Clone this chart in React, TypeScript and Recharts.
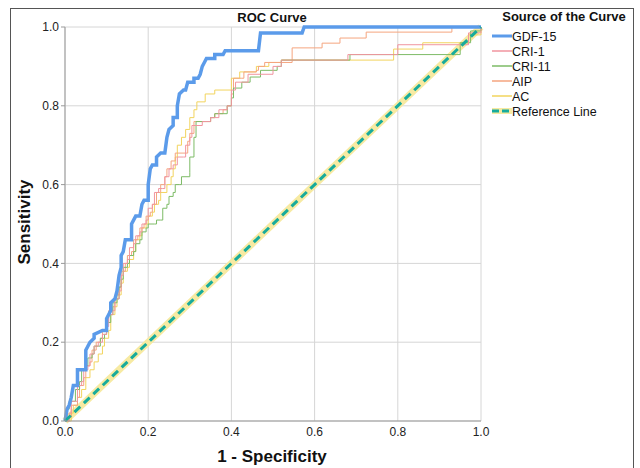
import { LineChart, Line, XAxis, YAxis, CartesianGrid } from "recharts";

type Pt = [number, number];

const TICKS = [0, 0.2, 0.4, 0.6, 0.8, 1.0];

const gdf15: Pt[] = [
  [0, 0], [0.005, 0.03], [0.01, 0.04], [0.015, 0.06], [0.02, 0.09], [0.03, 0.09], [0.03, 0.13],
  [0.05, 0.13], [0.05, 0.18], [0.06, 0.2], [0.07, 0.21], [0.07, 0.22], [0.09, 0.23], [0.1, 0.23],
  [0.1, 0.26], [0.11, 0.28], [0.11, 0.3], [0.12, 0.31], [0.125, 0.33], [0.13, 0.37], [0.135, 0.39],
  [0.135, 0.42], [0.14, 0.43], [0.145, 0.46], [0.16, 0.46], [0.16, 0.5], [0.17, 0.52], [0.18, 0.52],
  [0.185, 0.55], [0.19, 0.56], [0.2, 0.56], [0.2, 0.6], [0.205, 0.64], [0.21, 0.65], [0.22, 0.65],
  [0.22, 0.67], [0.23, 0.68], [0.24, 0.68], [0.245, 0.72], [0.25, 0.74], [0.26, 0.75], [0.26, 0.77],
  [0.27, 0.77], [0.27, 0.8], [0.275, 0.83], [0.285, 0.84], [0.29, 0.84], [0.295, 0.86], [0.31, 0.86],
  [0.31, 0.87], [0.32, 0.87], [0.325, 0.88], [0.33, 0.9], [0.335, 0.91], [0.34, 0.92], [0.36, 0.92],
  [0.36, 0.93], [0.38, 0.93], [0.385, 0.94], [0.465, 0.94], [0.47, 0.985], [0.57, 0.985], [0.575, 1],
  [1, 1],
];

const cri1: Pt[] = [
  [0, 0], [0.01, 0.02], [0.015, 0.05], [0.025, 0.05], [0.03, 0.09], [0.04, 0.1], [0.045, 0.13],
  [0.055, 0.14], [0.06, 0.17], [0.07, 0.19], [0.08, 0.2], [0.09, 0.22], [0.1, 0.24], [0.105, 0.27],
  [0.115, 0.28], [0.12, 0.31], [0.13, 0.33], [0.135, 0.37], [0.14, 0.4], [0.15, 0.41], [0.155, 0.44],
  [0.165, 0.45], [0.17, 0.47], [0.18, 0.48], [0.185, 0.5], [0.195, 0.51], [0.2, 0.54], [0.21, 0.55],
  [0.215, 0.58], [0.225, 0.59], [0.235, 0.59], [0.24, 0.62], [0.25, 0.64], [0.26, 0.65], [0.27, 0.67],
  [0.285, 0.67], [0.29, 0.7], [0.3, 0.72], [0.305, 0.75], [0.33, 0.76], [0.35, 0.77], [0.37, 0.79],
  [0.39, 0.8], [0.4, 0.84], [0.41, 0.86], [0.44, 0.88], [0.5, 0.9], [0.52, 0.916], [0.68, 0.916],
  [0.68, 0.93], [0.79, 0.93], [0.8, 0.955], [0.96, 0.955], [0.97, 0.985], [1, 1],
];

const cri11: Pt[] = [
  [0, 0], [0.005, 0.03], [0.01, 0.05], [0.02, 0.05], [0.025, 0.08], [0.035, 0.1], [0.04, 0.13],
  [0.05, 0.14], [0.055, 0.16], [0.065, 0.17], [0.07, 0.19], [0.08, 0.19], [0.085, 0.21], [0.095, 0.22],
  [0.1, 0.25], [0.11, 0.27], [0.115, 0.3], [0.125, 0.31], [0.13, 0.34], [0.135, 0.36], [0.14, 0.39],
  [0.15, 0.4], [0.155, 0.42], [0.165, 0.43], [0.17, 0.45], [0.18, 0.46], [0.185, 0.48], [0.195, 0.49],
  [0.2, 0.5], [0.215, 0.5], [0.22, 0.51], [0.23, 0.51], [0.235, 0.54], [0.245, 0.55], [0.25, 0.57],
  [0.26, 0.58], [0.265, 0.6], [0.275, 0.6], [0.28, 0.62], [0.3, 0.63], [0.3, 0.67], [0.31, 0.72],
  [0.315, 0.76], [0.35, 0.77], [0.36, 0.78], [0.39, 0.8], [0.4, 0.82], [0.405, 0.845], [0.425, 0.86],
  [0.445, 0.873], [0.47, 0.89], [0.51, 0.9], [0.52, 0.916], [0.685, 0.916], [0.685, 0.93],
  [0.94, 0.93], [0.95, 0.96], [0.975, 0.99], [1, 1],
];

const aip: Pt[] = [
  [0, 0], [0.01, 0.01], [0.015, 0.04], [0.03, 0.06], [0.035, 0.09], [0.045, 0.11], [0.05, 0.14],
  [0.06, 0.15], [0.065, 0.18], [0.075, 0.2], [0.085, 0.21], [0.09, 0.23], [0.1, 0.25], [0.105, 0.28],
  [0.115, 0.29], [0.12, 0.32], [0.13, 0.34], [0.135, 0.38], [0.145, 0.4], [0.15, 0.42], [0.16, 0.43],
  [0.165, 0.46], [0.175, 0.47], [0.18, 0.49], [0.19, 0.5], [0.195, 0.52], [0.205, 0.53], [0.21, 0.55],
  [0.22, 0.58], [0.23, 0.6], [0.24, 0.62], [0.245, 0.64], [0.255, 0.66], [0.265, 0.68], [0.29, 0.68],
  [0.295, 0.71], [0.3, 0.73], [0.31, 0.76], [0.35, 0.77], [0.36, 0.78], [0.38, 0.79], [0.39, 0.8],
  [0.4, 0.83], [0.405, 0.87], [0.425, 0.87], [0.43, 0.886], [0.46, 0.89], [0.465, 0.9], [0.48, 0.91],
  [0.52, 0.91], [0.546, 0.916], [0.546, 0.947], [0.618, 0.947], [0.618, 0.959], [0.661, 0.959],
  [0.661, 0.972], [0.724, 0.972], [0.724, 0.987], [0.93, 0.987], [0.93, 1], [1, 1],
];

const ac: Pt[] = [
  [0, 0], [0.015, 0.02], [0.02, 0.04], [0.03, 0.06], [0.04, 0.08], [0.05, 0.11], [0.06, 0.13],
  [0.07, 0.15], [0.08, 0.17], [0.09, 0.19], [0.095, 0.21], [0.105, 0.23], [0.11, 0.27], [0.12, 0.29],
  [0.125, 0.32], [0.135, 0.35], [0.14, 0.38], [0.15, 0.39], [0.155, 0.41], [0.165, 0.43], [0.17, 0.46],
  [0.18, 0.47], [0.185, 0.49], [0.195, 0.5], [0.2, 0.52], [0.21, 0.53], [0.215, 0.55], [0.225, 0.56],
  [0.23, 0.58], [0.245, 0.6], [0.255, 0.62], [0.26, 0.64], [0.265, 0.67], [0.27, 0.7], [0.28, 0.72],
  [0.29, 0.74], [0.3, 0.77], [0.31, 0.79], [0.317, 0.81], [0.337, 0.83], [0.36, 0.84], [0.4, 0.85],
  [0.4, 0.87], [0.42, 0.886], [0.46, 0.9], [0.49, 0.91], [0.52, 0.916], [0.79, 0.916], [0.79, 0.944],
  [0.86, 0.944], [0.86, 0.96], [0.96, 0.96], [0.97, 0.98], [1, 1],
];

const reference: Pt[] = [[0, 0], [1, 1]];

const SERIES = [
  { name: "GDF-15", pts: gdf15, color: "#5b9bea", width: 3.5 },
  { name: "CRI-1", pts: cri1, color: "#f0959f", width: 1 },
  { name: "CRI-11", pts: cri11, color: "#7dbb66", width: 1 },
  { name: "AIP", pts: aip, color: "#f5a57f", width: 1 },
  { name: "AC", pts: ac, color: "#f2d45e", width: 1 },
];

const BAND = "#f7eaa2";
const TEAL = "#17ab9c";
const FONT = "'Liberation Sans', Arial, sans-serif";
const toRows = (pts: Pt[]) => pts.map(([x, y]) => ({ x, y }));

function Legend() {
  return (
    <svg width={150} height={130} style={{ position: "absolute", left: 488, top: 0 }}>
      <text x={76} y={21} textAnchor="middle" fontFamily={FONT} fontWeight="bold" fontSize={13} fill="#111">
        Source of the Curve
      </text>
      {SERIES.map((s, i) => (
        <g key={s.name}>
          <line x1={4} x2={24} y1={36 + i * 15} y2={36 + i * 15} stroke={s.color} strokeWidth={s.width === 1 ? 1.5 : 3} />
          <text x={24} y={40.5 + i * 15} fontFamily={FONT} fontSize={12.5} fill="#111">{s.name}</text>
        </g>
      ))}
      <line x1={4} x2={24} y1={111} y2={111} stroke={BAND} strokeWidth={6} />
      <line x1={4} x2={24} y1={111} y2={111} stroke={TEAL} strokeWidth={3} strokeDasharray="7 3" />
      <text x={24} y={115.5} fontFamily={FONT} fontSize={12.5} fill="#111">Reference Line</text>
    </svg>
  );
}

export default function App() {
  return (
    <div style={{ position: "absolute", left: 0, top: 0, width: 640, height: 468, background: "#fff", overflow: "hidden", fontFamily: FONT }}>
      <div style={{ position: "absolute", left: 10, top: 8, width: 622, height: 480, border: "1px solid #555" }} />
      <LineChart width={640} height={468} margin={{ top: 27, right: 159, bottom: 17, left: 25 }}>
        <CartesianGrid stroke="#d6d6d6" />
        <XAxis
          type="number"
          dataKey="x"
          domain={[0, 1]}
          ticks={TICKS}
          tickFormatter={(v) => Number(v).toFixed(1)}
          height={30}
          tickSize={0}
          tickMargin={6}
          stroke="#999"
          tick={{ fill: "#222", fontSize: 12, fontFamily: FONT }}
          allowDuplicatedCategory={false}
        />
        <YAxis
          type="number"
          dataKey="y"
          domain={[0, 1]}
          ticks={TICKS}
          tickFormatter={(v) => Number(v).toFixed(1)}
          width={40}
          tickSize={4}
          tickMargin={2}
          stroke="#999"
          tick={{ fill: "#222", fontSize: 12, fontFamily: FONT }}
        />
        <Line data={toRows(reference)} dataKey="y" type="linear" stroke={BAND} strokeWidth={7} dot={false} isAnimationActive={false} />
        {SERIES.slice(1).reverse().map((s) => (
          <Line key={s.name} data={toRows(s.pts)} dataKey="y" type="stepAfter" stroke={s.color} strokeWidth={s.width} dot={false} isAnimationActive={false} />
        ))}
        <Line data={toRows(gdf15)} dataKey="y" type="linear" stroke="#5b9bea" strokeWidth={3.5} dot={false} isAnimationActive={false} />
        <Line data={toRows(reference)} dataKey="y" type="linear" stroke={TEAL} strokeWidth={3} strokeDasharray="8 5" dot={false} isAnimationActive={false} />
      </LineChart>
      <div style={{ position: "absolute", left: 172, width: 200, top: 10, textAlign: "center", fontWeight: "bold", fontSize: 13, color: "#111" }}>
        ROC Curve
      </div>
      <div style={{ position: "absolute", left: 172, width: 200, top: 447, textAlign: "center", fontWeight: "bold", fontSize: 17, color: "#111" }}>
        1 - Specificity
      </div>
      <div style={{ position: "absolute", left: 25, top: 222, transform: "translate(-50%, -50%) rotate(-90deg)", fontWeight: "bold", fontSize: 17, color: "#111", whiteSpace: "nowrap" }}>
        Sensitivity
      </div>
      <Legend />
    </div>
  );
}
